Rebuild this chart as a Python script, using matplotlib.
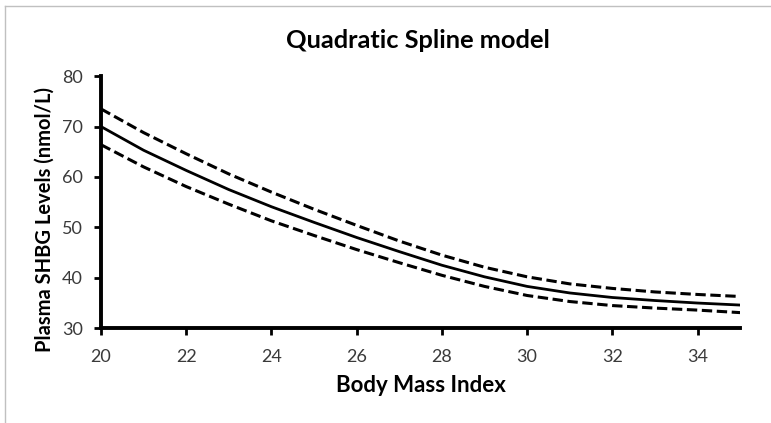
import matplotlib.pyplot as plt
import numpy as np

plt.rcParams['font.family'] = ['Lato', 'DejaVu Sans']

# 身體質量指數與 SHBG 濃度
bmi = [20, 21, 22, 23, 24, 25, 26, 27, 28, 29, 30, 31, 32, 33, 34, 35]
fit = [70.0, 65.3, 61.3, 57.5, 54.1, 51.0, 48.0, 45.2, 42.5, 40.2, 38.3, 37.0, 36.1, 35.5, 35.0, 34.6]
upper = [73.5, 68.8, 64.6, 60.6, 57.0, 53.6, 50.4, 47.3, 44.5, 42.1, 40.2, 38.8, 37.9, 37.2, 36.7, 36.3]
lower = [66.4, 62.0, 58.1, 54.6, 51.3, 48.4, 45.6, 43.0, 40.5, 38.3, 36.5, 35.3, 34.5, 34.0, 33.6, 33.1]

xticks = [20, 22, 24, 26, 28, 30, 32, 34]
yticks = [30, 40, 50, 60, 70, 80]

fig = plt.figure(figsize=(7.71, 4.23), dpi=100)
ax = fig.add_axes([0.131, 0.224, 0.829, 0.596])

ax.plot(bmi, fit, color='black', lw=2.0, solid_capstyle='butt')
ax.plot(bmi, upper, color='black', lw=2.2, dashes=(3.4, 1.5))
ax.plot(bmi, lower, color='black', lw=2.2, dashes=(3.4, 1.5))

ax.set_xlim(20, 35)
ax.set_ylim(30, 80)
ax.set_xticks(xticks)
ax.set_yticks(yticks)
ax.tick_params(direction='out', length=5, width=2, labelsize=13, colors='black',
               labelcolor='#3a3a3a')
ax.tick_params(axis='x', pad=10)
ax.tick_params(axis='y', pad=8)

for s in ['top', 'right']:
    ax.spines[s].set_visible(False)
for s in ['left', 'bottom']:
    ax.spines[s].set_linewidth(2.8)

ax.set_xlabel('Body Mass Index', fontsize=16, fontweight='bold', labelpad=7)
ax.set_ylabel('Plasma SHBG Levels (nmol/L)', fontsize=14.5, fontweight='bold')
ax.yaxis.set_label_coords(-0.072, 0.43)
fig.text(0.542, 0.905, 'Quadratic Spline model', ha='center', va='center',
         fontsize=18.3, fontweight='bold')

# 外框
fig.add_artist(plt.Line2D([0.006, 0.006], [0, 0.985], transform=fig.transFigure, color='#c0c0c0', lw=1))
fig.add_artist(plt.Line2D([0.006, 1], [0.985, 0.985], transform=fig.transFigure, color='#c0c0c0', lw=1))

fig.savefig('out.png', dpi=100)
